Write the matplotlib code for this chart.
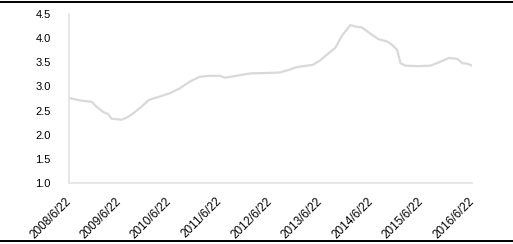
import matplotlib
matplotlib.use("Agg")
import matplotlib.pyplot as plt
from matplotlib.lines import Line2D
import numpy as np

# series
dates = ["2008-06-22", "2008-09-10", "2008-12-03", "2009-01-08", "2009-02-24",
         "2009-04-01", "2009-04-26", "2009-06-13", "2009-07-08", "2009-08-13",
         "2009-09-30", "2009-11-30", "2010-01-17", "2010-02-11", "2010-04-11",
         "2010-06-23", "2010-09-03", "2010-11-15", "2011-01-26", "2011-04-09",
         "2011-06-22", "2011-07-28", "2011-09-27", "2012-01-27", "2012-06-19",
         "2012-08-31", "2012-11-11", "2012-12-29", "2013-03-12", "2013-04-27",
         "2013-06-17", "2013-08-06", "2013-10-05", "2013-11-22", "2014-01-22",
         "2014-02-27", "2014-04-17", "2014-06-17", "2014-08-13", "2014-10-16",
         "2014-11-21", "2014-12-27", "2015-01-21", "2015-02-26", "2015-05-21",
         "2015-08-27", "2015-10-27", "2016-01-07", "2016-03-08", "2016-04-13",
         "2016-05-19", "2016-06-22"]
values = [2.76, 2.71, 2.68, 2.58, 2.47,
          2.43, 2.33, 2.32, 2.31, 2.35,
          2.44, 2.58, 2.71, 2.74, 2.79,
          2.86, 2.96, 3.10, 3.20, 3.22,
          3.22, 3.18, 3.21, 3.27, 3.28,
          3.29, 3.35, 3.40, 3.43, 3.45,
          3.54, 3.66, 3.80, 4.05, 4.27,
          4.24, 4.22, 4.09, 3.98, 3.93,
          3.86, 3.76, 3.48, 3.43, 3.42,
          3.43, 3.50, 3.59, 3.57, 3.48,
          3.47, 3.43]

tick_dates = ["2008-06-22", "2009-06-22", "2010-06-22", "2011-06-22", "2012-06-22",
              "2013-06-22", "2014-06-22", "2015-06-22", "2016-06-22"]
tick_labels = ["2008/6/22", "2009/6/22", "2010/6/22", "2011/6/22", "2012/6/22",
               "2013/6/22", "2014/6/22", "2015/6/22", "2016/6/22"]
y_ticks = [1.0, 1.5, 2.0, 2.5, 3.0, 3.5, 4.0, 4.5]

plt.rcParams["font.family"] = ["Liberation Sans", "DejaVu Sans"]

x = np.array(dates, dtype="datetime64[D]")
xt = np.array(tick_dates, dtype="datetime64[D]")

fig = plt.figure(figsize=(5.13, 2.44), dpi=100)
ax = fig.add_axes([69 / 513, 61 / 244, 403 / 513, 169 / 244])

ax.plot(x, values, color="#d9d9d9", linewidth=1.6)

ax.set_xlim(xt[0], xt[-1])
ax.set_ylim(1.0, 4.5)
ax.set_yticks(y_ticks)
ax.set_yticklabels(["%.1f" % v for v in y_ticks])
ax.set_xticks(xt)
ax.set_xticklabels(tick_labels, rotation=45, ha="right", va="center",
                   rotation_mode="anchor")

ax.tick_params(axis="both", length=0, colors="#000000")
ax.tick_params(axis="y", pad=13, labelsize=8)
ax.tick_params(axis="x", pad=12, labelsize=8.5)

for s in ["top", "right"]:
    ax.spines[s].set_visible(False)
for s in ["left", "bottom"]:
    ax.spines[s].set_color("#e3e3e3")
    ax.spines[s].set_linewidth(1.2)

# black rules at top and bottom of the picture
fig.add_artist(Line2D([0, 1], [1 - 1.5 / 244, 1 - 1.5 / 244], color="black", linewidth=1.4))
fig.add_artist(Line2D([0, 1], [3.5 / 244, 3.5 / 244], color="black", linewidth=1.4))

fig.savefig("out.png", dpi=100)
